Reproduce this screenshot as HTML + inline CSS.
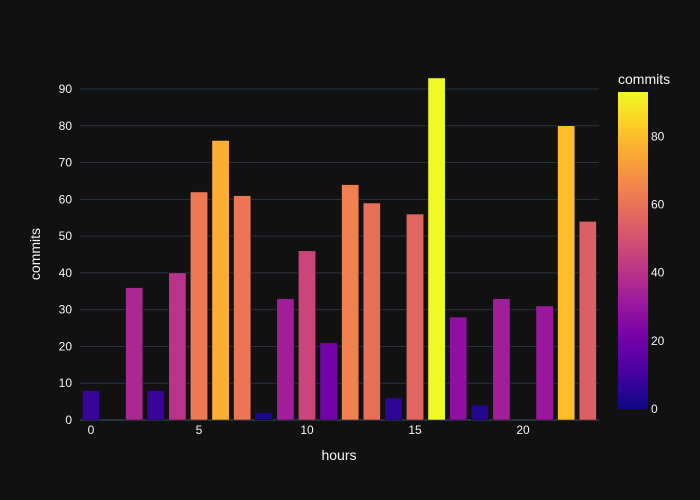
<!DOCTYPE html>
<html><head><meta charset="utf-8"><style>
body{margin:0;background:#111111;}
svg{display:block;font-family:"Liberation Sans",Arial,sans-serif;}
</style></head><body>
<svg id="c" width="700" height="500">
<defs><linearGradient id="plasma" x1="0" y1="1" x2="0" y2="0">
<stop offset="0" stop-color="#0d0887"/><stop offset="0.111" stop-color="#46039f"/><stop offset="0.222" stop-color="#7201a8"/><stop offset="0.333" stop-color="#9c179e"/><stop offset="0.444" stop-color="#bd3786"/><stop offset="0.556" stop-color="#d8576b"/><stop offset="0.667" stop-color="#ed7953"/><stop offset="0.778" stop-color="#fb9f3a"/><stop offset="0.889" stop-color="#fdca26"/><stop offset="1" stop-color="#f0f921"/>
</linearGradient></defs>
<rect width="700" height="500" fill="#111111"/>
<g id="grid"></g><g id="bars"></g><g id="axes"></g>
<rect x="618" y="92" width="30" height="317" fill="url(#plasma)"/>
<text x="618" y="84" fill="#f2f5fa" font-size="14">commits</text>
<text x="339" y="460" fill="#f2f5fa" font-size="14" text-anchor="middle">hours</text>
<text x="40" y="254" fill="#f2f5fa" font-size="14" text-anchor="middle" transform="rotate(-90 40 254)">commits</text>
</svg>
<script>
const hours=[0,1,2,3,4,5,6,7,8,9,10,11,12,13,14,15,16,17,18,19,20,21,22,23];
const commits=[8,0,36,8,40,62,76,61,2,33,46,21,64,59,6,56,93,28,4,33,0,31,80,54];
const yTicks=[0,10,20,30,40,50,60,70,80,90];
const xTicks=[0,5,10,15,20];
const cbTicks=[0,20,40,60,80];
const NS="http://www.w3.org/2000/svg";
const X=h=>91+(h)*21.6;
const Y=v=>420-v*(331/90);
const CB=v=>409-v*(317/93);
const stops=[[0,"#0d0887"],[0.111,"#46039f"],[0.222,"#7201a8"],[0.333,"#9c179e"],[0.444,"#bd3786"],[0.556,"#d8576b"],[0.667,"#ed7953"],[0.778,"#fb9f3a"],[0.889,"#fdca26"],[1,"#f0f921"]];
function hex(c){return [1,3,5].map(i=>parseInt(c.substr(i,2),16));}
function color(t){for(let i=1;i<stops.length;i++){if(t<=stops[i][0]){const a=stops[i-1],b=stops[i],f=(t-a[0])/(b[0]-a[0]);const ca=hex(a[1]),cb=hex(b[1]);return "rgb("+ca.map((v,k)=>Math.round(v+(cb[k]-v)*f)).join(",")+")";}}return stops[stops.length-1][1];}
function el(tag,attrs,parent,txt){const e=document.createElementNS(NS,tag);for(const k in attrs)e.setAttribute(k,attrs[k]);if(txt!==undefined)e.textContent=txt;document.getElementById(parent).appendChild(e);return e;}
const svg=document.getElementById('c');
yTicks.forEach(v=>{
 if(v>0){const g=el('line',{x1:80,x2:599,y1:Y(v),y2:Y(v),stroke:'#283442','stroke-width':1},'grid');
 
 }
 const t=el('text',{x:79-7,y:Y(v)+4,fill:'#f2f5fa','font-size':12,'text-anchor':'end'},'axes',v);
 
 
});
const zl=el('line',{x1:80,x2:599,y1:Y(0),y2:Y(0),stroke:'#283442','stroke-width':2},'grid');


xTicks.forEach(v=>{
 const t=el('text',{x:X(v),y:434,fill:'#f2f5fa','font-size':12,'text-anchor':'middle'},'axes',v);
 
 
});
cbTicks.forEach(v=>{
 const t=el('text',{x:651,y:CB(v)+4,fill:'#f2f5fa','font-size':12},'axes',v);
 
 
});
const maxC=Math.max(...commits);
hours.forEach((h,i)=>{
 const v=commits[i];
 const r=el('rect',{x:X(h)-8.64,width:17.28,y:Y(v),height:Y(0)-Y(v),fill:color(v/maxC),stroke:'#111111','stroke-width':0.5},'bars');
 
 
});
</script>
</body></html>
